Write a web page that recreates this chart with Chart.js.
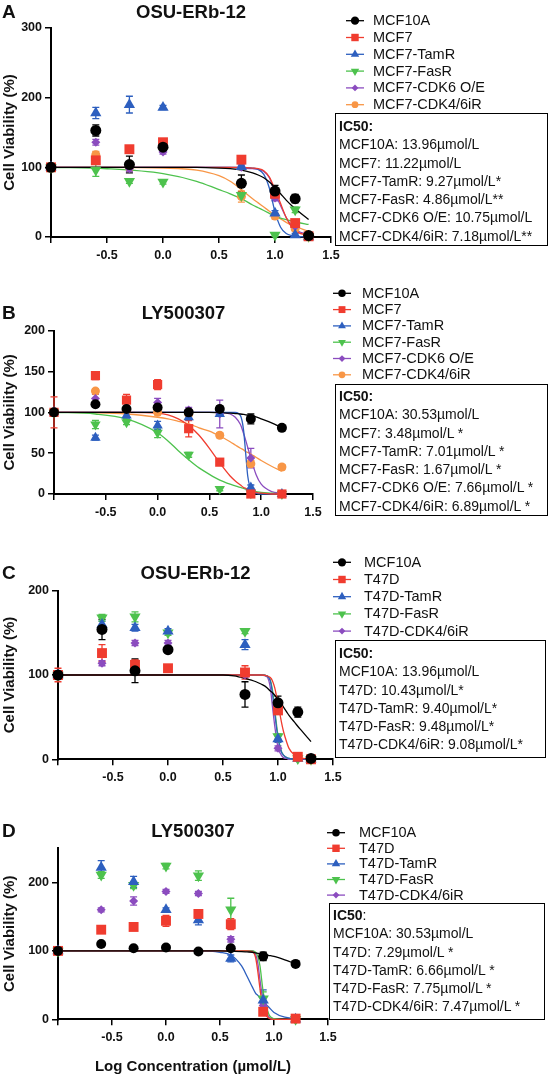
<!DOCTYPE html>
<html>
<head>
<meta charset="utf-8">
<script src="https://cdn.jsdelivr.net/npm/chart.js@4/dist/chart.umd.min.js"></script>
<style>
body { margin: 0; background: #fff; overflow: hidden; }
#wrap { position: relative; width: 553px; height: 1074px; }
canvas { position: absolute; left: 0; }
.ic {
    position: absolute; box-sizing: border-box; border: 1.5px solid #000;
    font: 14px/18.3px "Liberation Sans", Arial, sans-serif; color: #111;
    padding: 3px 0 0 3px; white-space: nowrap;
}
</style>
</head>
<body>
<div id="wrap">
  <canvas id="cA" width="553" height="268" style="top:0px"></canvas>
  <canvas id="cB" width="553" height="262" style="top:268px"></canvas>
  <canvas id="cC" width="553" height="260" style="top:530px"></canvas>
  <canvas id="cD" width="553" height="284" style="top:790px"></canvas>

  <div class="ic" style="left:335px;top:113px;width:213px;height:133px;">
    <b>IC50:</b><br>MCF10A: 13.96µmol/L<br>MCF7: 11.22µmol/L<br>MCF7-TamR: 9.27µmol/L*<br>MCF7-FasR: 4.86µmol/L**<br>MCF7-CDK6 O/E: 10.75µmol/L<br>MCF7-CDK4/6iR: 7.18µmol/L**
  </div>
  <div class="ic" style="left:335px;top:384px;width:213px;height:132px;padding-top:2px;">
    <b>IC50:</b><br>MCF10A: 30.53µmol/L<br>MCF7: 3.48µmol/L *<br>MCF7-TamR: 7.01µmol/L *<br>MCF7-FasR: 1.67µmol/L *<br>MCF7-CDK6 O/E: 7.66µmol/L *<br>MCF7-CDK4/6iR: 6.89µmol/L *
  </div>
  <div class="ic" style="left:335px;top:640px;width:211px;height:118px;">
    <b>IC50:</b><br>MCF10A: 13.96µmol/L<br>T47D: 10.43µmol/L*<br>T47D-TamR: 9.40µmol/L*<br>T47D-FasR: 9.48µmol/L*<br>T47D-CDK4/6iR: 9.08µmol/L*
  </div>
  <div class="ic" style="left:329px;top:903px;width:216px;height:117px;padding-top:2px;">
    <b>IC50</b>:<br>MCF10A: 30.53µmol/L<br>T47D: 7.29µmol/L *<br>T47D-TamR: 6.66µmol/L *<br>T47D-FasR: 7.75µmol/L *<br>T47D-CDK4/6iR: 7.47µmol/L *
  </div>
</div>

<script>
// ---- panel A : OSU-ERb-12, MCF7 lines ----
var doseA = [-1, -0.6, -0.3, 0, 0.7, 1.0, 1.18, 1.3];
var fitXA = [-1, -0.5, 0, 0.3, 0.5, 0.6, 0.7, 0.8, 0.85, 0.9, 0.95, 1.0, 1.05, 1.1, 1.15, 1.2, 1.3];
var mcf10aA = [100, 153, 104, 129, 77, 66, 55, 2];
var mcf10aErrA = [3, 8, 12, 4, 12, 8, 6, 2];
var mcf10aFitA = [100, 100, 100, 100, 99, 98, 96, 92, 89, 85, 79, 71, 62, 53, 45, 38, 25];
var mcf7A = [100, 110, 126, 136, 111, 62, 20, 1];
var mcf7ErrA = [3, 5, 4, 3, 3, 4, 3, 1];
var mcf7FitA = [100, 100, 100, 100, 100, 100, 100, 99, 98, 95, 86, 68, 48, 28, 14, 7, 2];
var tamA = [100, 178, 190, 186, 101, 34, 3, 0];
var tamErrA = [3, 8, 12, 3, 4, 4, 2, 1];
var tamFitA = [100, 100, 100, 100, 100, 100, 100, 99, 97, 90, 70, 36, 14, 5, 2, 1, 0];
var fasA = [100, 96, 80, 79, 60, 3, 39, 1];
var fasErrA = [6, 9, 3, 3, 3, 2, 4, 1];
var fasFitA = [100, 98, 91, 80, 68, 62, 55, 46, 42, 38, 34, 30, 27, 25, 23, 21, 18];
var cdk6A = [100, 136, 98, 122, 100, 56, 15, 1];
var cdk6ErrA = [3, 4, 4, 3, 3, 4, 2, 1];
var cdk6FitA = [100, 100, 100, 100, 100, 100, 99, 98, 97, 94, 85, 63, 45, 28, 16, 9, 3];
var cdk46A = [100, 118, 100, 130, 58, 30, 12, 1];
var cdk46ErrA = [3, 5, 4, 3, 8, 4, 3, 1];
var cdk46FitA = [100, 100, 99, 96, 88, 80, 68, 55, 49, 43, 37, 31, 26, 21, 17, 14, 8];

// ---- panel B : LY500307, MCF7 lines ----
var doseB = [-1, -0.6, -0.3, 0, 0.3, 0.6, 0.9, 1.2];
var fitXB = [-1, -0.6, -0.3, 0, 0.1, 0.2, 0.3, 0.4, 0.5, 0.6, 0.7, 0.75, 0.8, 0.83, 0.85, 0.87, 0.9, 0.95, 1.0, 1.1, 1.2];
var mcf10aB = [100, 110, 104, 106, 100, 104, 92, 81];
var mcf10aErrB = [2, 3, 3, 3, 3, 4, 6, 2];
var mcf10aFitB = [100, 100, 100, 100, 100, 100, 100, 100, 100, 99.5, 99, 98.5, 98, 97.5, 97, 96.5, 96, 94.5, 92, 87, 81];
var mcf7B = [100, 145, 115, 134, 80, 39, 0, 0];
var mcf7ErrB = [19, 5, 7, 6, 10, 3, 1, 1];
var mcf7FitB = [100, 100, 100, 99, 97, 92, 84, 72, 56, 38, 22, 16, 11, 8, 7, 5, 4, 2, 1, 0, 0];
var tamB = [100, 69, 96, 84, 94, 98, 8, 0];
var tamErrB = [3, 3, 3, 5, 3, 3, 3, 1];
var tamFitB = [100, 100, 100, 100, 100, 100, 100, 100, 100, 100, 100, 100, 96, 78, 50, 22, 6, 1, 0, 0, 0];
var fasB = [100, 85, 88, 75, 48, 6, 1, 0];
var fasErrB = [3, 5, 3, 6, 3, 2, 1, 1];
var fasFitB = [100, 98, 92, 75, 65, 53, 42, 32, 24, 17, 12, 10, 8, 7, 6, 5, 4, 3, 2, 1, 0];
var cdk6B = [100, 117, 105, 112, 103, 98, 44, 0];
var cdk6ErrB = [3, 5, 3, 5, 3, 17, 12, 1];
var cdk6FitB = [100, 100, 100, 100, 100, 100, 100, 100, 100, 100, 98, 94, 85, 74, 66, 57, 44, 24, 12, 3, 1];
var cdk46B = [100, 126, 103, 100, 98, 72, 37, 33];
var cdk46ErrB = [3, 3, 3, 3, 3, 3, 4, 3];
var cdk46FitB = [100, 99.5, 98, 94, 92, 89, 86, 81, 77, 71, 64, 60, 56, 54, 52, 51, 49, 45, 41, 34, 28];

// ---- panel C : OSU-ERb-12, T47D lines ----
var doseC = [-1, -0.6, -0.3, 0, 0.7, 1.0, 1.18, 1.3];
var fitXC = [-1, -0.5, 0, 0.3, 0.5, 0.6, 0.7, 0.8, 0.85, 0.9, 0.93, 0.95, 0.97, 1.0, 1.03, 1.05, 1.08, 1.1, 1.15, 1.2, 1.3];
var mcf10aC = [100, 154, 105, 130, 77, 67, 56, 1];
var mcf10aErrC = [3, 12, 14, 3, 15, 8, 6, 1];
var mcf10aFitC = [100, 100, 100, 100, 100, 99, 96, 92, 89, 85, 81, 79, 76, 71, 66, 62, 56, 52, 44, 36, 21];
var t47dC = [100, 126, 112, 108, 103, 58, 3, 0];
var t47dErrC = [8, 10, 6, 3, 8, 4, 2, 1];
var t47dFitC = [100, 100, 100, 100, 100, 100, 100, 100, 100, 99, 97, 93, 85, 66, 45, 33, 20, 13, 5, 2, 0];
var tamC = [100, 160, 156, 152, 136, 24, 1, 0];
var tamErrC = [3, 4, 4, 3, 6, 4, 1, 1];
var tamFitC = [100, 100, 100, 100, 100, 100, 100, 100, 100, 99, 93, 78, 55, 25, 9, 5, 2, 1, 0, 0, 0];
var fasC = [100, 168, 169, 150, 152, 27, 1, 0];
var fasErrC = [3, 4, 6, 3, 3, 3, 1, 1];
var fasFitC = [100, 100, 100, 100, 100, 100, 100, 100, 100, 99, 94, 82, 60, 28, 10, 5, 2, 1, 0, 0, 0];
var cdk46C = [100, 114, 138, 138, 100, 13, 0, 0];
var cdk46ErrC = [3, 3, 3, 3, 3, 3, 1, 1];
var cdk46FitC = [100, 100, 100, 100, 100, 100, 100, 100, 100, 98, 85, 62, 40, 14, 5, 2, 1, 0, 0, 0, 0];

// ---- panel D : LY500307, T47D lines ----
var doseD = [-1, -0.6, -0.3, 0, 0.3, 0.6, 0.9, 1.2];
var fitXD = [-1, -0.5, 0, 0.3, 0.5, 0.6, 0.7, 0.75, 0.8, 0.83, 0.85, 0.87, 0.9, 0.95, 1.0, 1.1, 1.2];
var mcf10aD = [100, 110, 104, 105, 99, 104, 92, 81];
var mcf10aErrD = [2, 2, 2, 2, 2, 2, 6, 2];
var mcf10aFitD = [100, 100, 100, 100, 100, 99.5, 99, 98.5, 98, 97, 96.5, 96, 95, 93.5, 92, 87, 81];
var t47dD = [100, 131, 135, 144, 154, 139, 11, 1];
var t47dErrD = [5, 5, 5, 8, 5, 8, 3, 1];
var t47dFitD = [100, 100, 100, 100, 100, 100, 100, 100, 99, 90, 70, 45, 15, 2, 0, 0, 0];
var tamD = [100, 222, 201, 160, 145, 89, 28, 0];
var tamErrD = [3, 10, 8, 3, 7, 5, 15, 1];
var tamFitD = [100, 100, 100, 100, 98, 94, 78, 63, 47, 38, 35, 31, 26, 18, 10, 3, 1];
var fasD = [100, 211, 196, 224, 210, 160, 30, 0];
var fasErrD = [3, 5, 5, 4, 7, 17, 10, 1];
var fasFitD = [100, 100, 100, 100, 100, 100, 100, 100, 100, 98, 92, 78, 40, 8, 1, 0, 0];
var cdk46D = [100, 160, 173, 187, 184, 117, 20, 0];
var cdk46ErrD = [3, 3, 6, 3, 3, 4, 3, 1];
var cdk46FitD = [100, 100, 100, 100, 100, 100, 100, 100, 100, 95, 82, 58, 25, 4, 0, 0, 0];

var FONT = '"Liberation Sans", Arial, sans-serif';
var black = '#000000', red = '#f03c2f', blue = '#2d5fbf', green = '#4dc24d',
    purple = '#8b4cbf', orange = '#f89646';

function series(label, color, style, radius, rotation, values, errors, fit) {
    return { label: label, color: color, style: style, radius: radius, rotation: rotation,
             values: values, errors: errors, fit: fit };
}

// error bars drawn from the dataset values through the chart scales
var errorBars = {
    id: 'errorBars',
    beforeDatasetsDraw: function(chart) {
        var ctx = chart.ctx, xs = chart.scales.x, ys = chart.scales.y;
        chart.data.datasets.forEach(function(ds) {
            if (!ds.errors) return;
            ctx.save();
            ctx.strokeStyle = ds.borderColor;
            ctx.lineWidth = 1.3;
            ds.data.forEach(function(pt, i) {
                var e = ds.errors[i];
                if (!e) return;
                var x = xs.getPixelForValue(pt.x);
                var y1 = ys.getPixelForValue(pt.y + e);
                var y2 = ys.getPixelForValue(Math.max(pt.y - e, ys.min));
                ctx.beginPath();
                ctx.moveTo(x, y1); ctx.lineTo(x, y2);
                ctx.moveTo(x - 3.5, y1); ctx.lineTo(x + 3.5, y1);
                ctx.moveTo(x - 3.5, y2); ctx.lineTo(x + 3.5, y2);
                ctx.stroke();
            });
            ctx.restore();
        });
    }
};

// panel letter, title and the line+marker legend
var panelDeco = {
    id: 'panelDeco',
    afterDraw: function(chart, args, o) {
        if (!o || !o.items) return;
        var ctx = chart.ctx, a = chart.chartArea;
        ctx.save();
        ctx.fillStyle = '#111';
        ctx.textBaseline = 'middle';
        ctx.font = 'bold 19px ' + FONT;
        ctx.textAlign = 'left';
        ctx.fillText(o.letter, 2, o.titleY);
        ctx.font = 'bold 18.5px ' + FONT;
        ctx.textAlign = 'center';
        ctx.fillText(o.title, (a.left + a.right) / 2, o.titleY);

        ctx.font = '14.5px ' + FONT;
        ctx.textAlign = 'left';
        o.items.forEach(function(s, i) {
            var y = o.legendY + i * o.legendDy;
            ctx.strokeStyle = s.color;
            ctx.lineWidth = 1.3;
            ctx.beginPath();
            ctx.moveTo(o.legendX, y);
            ctx.lineTo(o.legendX + 18, y);
            ctx.stroke();
            ctx.fillStyle = s.color;
            Chart.helpers.drawPoint(ctx, { pointStyle: s.style, radius: s.radius * 0.75,
                rotation: s.rotation, borderWidth: 0 }, o.legendX + 9, y);
            ctx.fillStyle = '#111';
            ctx.fillText(s.label, o.textX, y + 0.5);
        });
        ctx.restore();
    }
};

function makeChart(id, p) {
    var datasets = [];
    p.series.forEach(function(s) {
        datasets.push({
            label: s.label,
            data: p.dose.map(function(x, i) { return { x: x, y: s.values[i] }; }),
            errors: s.errors,
            showLine: false,
            pointStyle: s.style,
            pointRadius: s.radius,
            pointRotation: s.rotation,
            pointBorderWidth: 0,
            backgroundColor: s.color,
            borderColor: s.color,
            clip: false
        });
    });
    p.series.forEach(function(s) {
        datasets.push({
            label: s.label + ' fit',
            data: p.fitX.map(function(x, i) { return { x: x, y: s.fit[i] }; }),
            showLine: true,
            pointRadius: 0,
            borderColor: s.color,
            borderWidth: 1.3,
            cubicInterpolationMode: 'monotone',
            fill: false,
            clip: false
        });
    });

    var tickFont = { family: FONT, size: 12.5, weight: 'bold' };
    new Chart(document.getElementById(id), {
        type: 'scatter',
        data: { datasets: datasets },
        options: {
            responsive: false,
            animation: false,
            layout: { padding: { left: 0, top: p.top, right: 553 - p.right, bottom: 0 } },
            plugins: {
                legend: { display: false },
                tooltip: { enabled: false },
                panelDeco: { letter: p.letter, title: p.title, titleY: p.titleY, items: p.series,
                             legendX: p.legendX, textX: p.textX, legendY: p.legendY, legendDy: p.legendDy }
            },
            scales: {
                x: {
                    type: 'linear', min: -1, max: 1.5,
                    afterFit: function(scale) { scale.height = p.height - p.bottom; },
                    ticks: { stepSize: 0.5, padding: 5, color: '#111', font: tickFont,
                             callback: function(v) { return v === -1 ? '' : v.toFixed(1); } },
                    grid: { drawOnChartArea: false, color: '#000', lineWidth: 1.5, tickLength: 6 },
                    border: { color: '#000', width: 2 },
                    title: { display: !!p.xTitle, text: p.xTitle || '', color: '#111',
                             font: { family: FONT, size: 15, weight: 'bold', lineHeight: 1 },
                             padding: { top: 0, bottom: 0 } }
                },
                y: {
                    min: 0, max: p.yMax,
                    afterFit: function(scale) { scale.width = p.left; },
                    ticks: { stepSize: p.yStep, padding: 3, color: '#111', font: tickFont,
                             includeBounds: false },
                    grid: { drawOnChartArea: false, color: '#000', lineWidth: 1.5, tickLength: 6 },
                    border: { color: '#000', width: 2 },
                    title: { display: true, text: 'Cell Viability (%)', color: '#111',
                             font: { family: FONT, size: 15, weight: 'bold' },
                             padding: { top: 1, bottom: 0 } }
                }
            }
        },
        plugins: [errorBars, panelDeco]
    });
}

makeChart('cA', {
    letter: 'A', title: 'OSU-ERb-12', titleY: 13, height: 268,
    left: 51, right: 331, top: 28, bottom: 237, yMax: 300, yStep: 100,
    legendX: 346, textX: 373, legendY: 20.7, legendDy: 16.8,
    dose: doseA, fitX: fitXA,
    series: [
        series('MCF10A', black, 'circle', 5.5, 0, mcf10aA, mcf10aErrA, mcf10aFitA),
        series('MCF7', red, 'rect', 7, 0, mcf7A, mcf7ErrA, mcf7FitA),
        series('MCF7-TamR', blue, 'triangle', 6.5, 0, tamA, tamErrA, tamFitA),
        series('MCF7-FasR', green, 'triangle', 6.5, 180, fasA, fasErrA, fasFitA),
        series('MCF7-CDK6 O/E', purple, 'rectRot', 4.5, 0, cdk6A, cdk6ErrA, cdk6FitA),
        series('MCF7-CDK4/6iR', orange, 'circle', 4.5, 0, cdk46A, cdk46ErrA, cdk46FitA)
    ]
});

makeChart('cB', {
    letter: 'B', title: 'LY500307', titleY: 46, height: 262,
    left: 54, right: 313, top: 62.7, bottom: 226, yMax: 200, yStep: 50,
    legendX: 333, textX: 362, legendY: 25.3, legendDy: 16.3,
    dose: doseB, fitX: fitXB,
    series: [
        series('MCF10A', black, 'circle', 5, 0, mcf10aB, mcf10aErrB, mcf10aFitB),
        series('MCF7', red, 'rect', 6.5, 0, mcf7B, mcf7ErrB, mcf7FitB),
        series('MCF7-TamR', blue, 'triangle', 6, 0, tamB, tamErrB, tamFitB),
        series('MCF7-FasR', green, 'triangle', 6, 180, fasB, fasErrB, fasFitB),
        series('MCF7-CDK6 O/E', purple, 'rectRot', 4.5, 0, cdk6B, cdk6ErrB, cdk6FitB),
        series('MCF7-CDK4/6iR', orange, 'circle', 4.5, 0, cdk46B, cdk46ErrB, cdk46FitB)
    ]
});

makeChart('cC', {
    letter: 'C', title: 'OSU-ERb-12', titleY: 44, height: 260,
    left: 58, right: 333, top: 60.7, bottom: 229.3, yMax: 200, yStep: 100,
    legendX: 333, textX: 364, legendY: 32.3, legendDy: 17.2,
    dose: doseC, fitX: fitXC,
    series: [
        series('MCF10A', black, 'circle', 5.5, 0, mcf10aC, mcf10aErrC, mcf10aFitC),
        series('T47D', red, 'rect', 7, 0, t47dC, t47dErrC, t47dFitC),
        series('T47D-TamR', blue, 'triangle', 6.5, 0, tamC, tamErrC, tamFitC),
        series('T47D-FasR', green, 'triangle', 6.5, 180, fasC, fasErrC, fasFitC),
        series('T47D-CDK4/6iR', purple, 'rectRot', 4.5, 0, cdk46C, cdk46ErrC, cdk46FitC)
    ]
});

makeChart('cD', {
    letter: 'D', title: 'LY500307', titleY: 42, height: 284,
    left: 58, right: 328, top: 58.3, bottom: 229.3, yMax: 250, yStep: 100,
    legendX: 327, textX: 359, legendY: 42.7, legendDy: 15.6,
    xTitle: 'Log Concentration (µmol/L)',
    dose: doseD, fitX: fitXD,
    series: [
        series('MCF10A', black, 'circle', 5, 0, mcf10aD, mcf10aErrD, mcf10aFitD),
        series('T47D', red, 'rect', 7, 0, t47dD, t47dErrD, t47dFitD),
        series('T47D-TamR', blue, 'triangle', 6.5, 0, tamD, tamErrD, tamFitD),
        series('T47D-FasR', green, 'triangle', 6.5, 180, fasD, fasErrD, fasFitD),
        series('T47D-CDK4/6iR', purple, 'rectRot', 4.5, 0, cdk46D, cdk46ErrD, cdk46FitD)
    ]
});
</script>
</body>
</html>
